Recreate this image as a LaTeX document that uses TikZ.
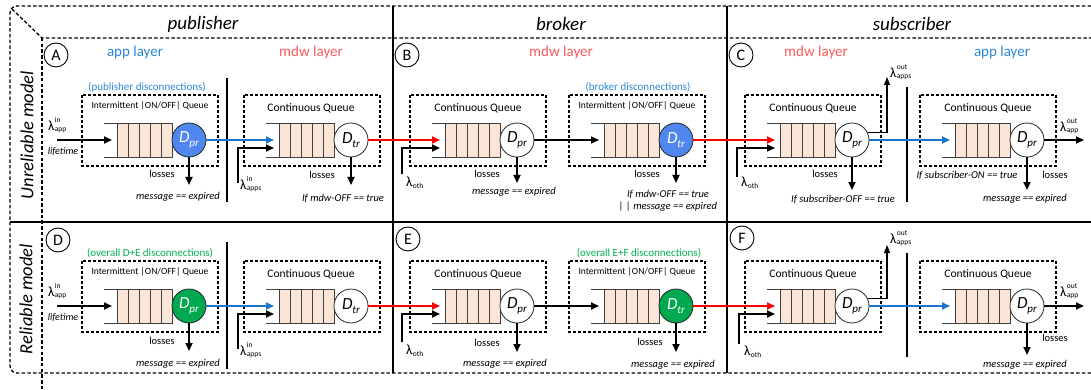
\documentclass[tikz,border=0pt]{standalone}
\usepackage{fontspec}
\setmainfont{Carlito}
\usetikzlibrary{arrows.meta,calc}
\definecolor{peach}{HTML}{FBE5D6}
\definecolor{srvblue}{HTML}{4F87EE}
\definecolor{srvgreen}{HTML}{00A84F}
\definecolor{arrblue}{HTML}{1C75C8}
\definecolor{txtblue}{HTML}{2B88D8}
\definecolor{mdwred}{HTML}{FF5A5A}
\definecolor{txtgreen}{HTML}{00B050}
\newcommand\fs[1]{\fontsize{#1}{#1}\selectfont}
\newcommand\lamb[2]{{\fs{14}λ}\kern0.2pt\rlap{\raisebox{8pt}{\fs{7.5}#1}}\raisebox{-1.5pt}{\fs{7.5}#2}}
\newcommand\srvlab[1]{{\fs{17}\itshape D}\kern-0.3pt\raisebox{-4pt}{\fs{11}\itshape #1}}
\tikzset{
  frame/.style={line width=1.3pt, dash pattern=on 3.5pt off 2.2pt},
  dbox/.style={line width=1.2pt, dash pattern=on 3pt off 2pt},
  divider/.style={line width=1.3pt},
  sepline/.style={line width=1.3pt},
  qline/.style={line width=0.9pt, draw=black!75},
  qcell/.style={line width=0.9pt, draw=black!75, fill=peach},
  srv/.style={circle, draw=black!85, line width=0.8pt, minimum size=34pt, inner sep=0pt},
  letter/.style={circle, draw, line width=0.9pt, minimum size=24pt, inner sep=0pt, font=\fs{16}},
  flowk/.style={line width=1.8pt, -{Triangle[length=8pt,width=7pt]}},
  flowb/.style={flowk, draw=arrblue},
  flowr/.style={flowk, draw=red},
  thinarr/.style={line width=1.1pt, -{Triangle[length=8pt,width=6pt]}},
  lbl/.style={font=\fs{10.5}, inner sep=0pt},
  cond/.style={font=\fs{10.5}\itshape, inner sep=0pt},
  boxt/.style={font=\fs{11.5}, inner sep=0pt},
  itt/.style={font=\fs{9.5}, inner sep=0pt},
  disc/.style={font=\fs{11}, inner sep=0pt},
  lay/.style={font=\fs{15}, inner sep=0pt},
  head/.style={font=\fs{19}\itshape, inner sep=0pt},
  rowl/.style={font=\fs{18.5}\itshape, inner sep=0pt, rotate=90},
  lam/.style={inner sep=0pt, anchor=west},
  pics/queue/.style n args={3}{code={
    \draw[qline] (-85,-17) -- (-16,-17) (-85,17) -- (-16,17);
    \foreach \k in {0,...,4}{\draw[qcell] (-72+11*\k,-17) rectangle (-61+11*\k,17);}
    \node[srv, fill=#1, text=#2] (-srv) at (0,0) {\srvlab{#3}};
    \coordinate (-in) at (-77,0);
    \coordinate (-in2) at (-77,8);
  }}
}
\begin{document}
\begin{tikzpicture}[x=1pt,y=-1pt]
\useasboundingbox (0,0) rectangle (1091,390);
% ---------- frame ----------
\draw[frame, rounded corners=7pt] (1091,6) -- (10,6) -- (10,373) -- (1091,373);
\draw[frame] (12,9) -- (42,38) -- (1091,38);
\draw[frame] (42,38) -- (42,390);
\draw[divider] (393,6) -- (393,373);
\draw[divider] (727,6) -- (727,373);
\draw[line width=1.6pt] (10,222) -- (1091,222);
% ---------- headers ----------
\node[head] (hpub) at (203,24) {publisher};
\node[head] (hbro) at (561,24) {broker};
\node[head] (hsub) at (912,24) {subscriber};
\node[rowl] (rowU) at (27,135) {Unreliable model};
\node[rowl] (rowR) at (26,299) {Reliable model};
% ---------- panel letters ----------
\node[letter] (cA) at (56,55) {A};
\node[letter] (cB) at (407,55) {B};
\node[letter] (cC) at (741,55) {C};
\node[letter] (cD) at (58,240) {D};
\node[letter] (cE) at (408,239) {E};
\node[letter] (cF) at (742,238) {F};
% ---------- layer labels ----------
\node[lay, text=txtblue] (layA1) at (135,53) {app layer};
\node[lay, text=mdwred] (layA2) at (311,53) {mdw layer};
\node[lay, text=mdwred] (layB) at (561,53) {mdw layer};
\node[lay, text=mdwred] (layC1) at (816,53) {mdw layer};
\node[lay, text=txtblue] (layC2) at (1002,53) {app layer};
% ---------- separators ----------
\draw[sepline] (227,78) -- (227,202);
\draw[sepline] (227,242) -- (227,369);
\draw[sepline] (907,87) -- (907,202);
\draw[sepline] (907,253) -- (907,357);
% ---------- dashed boxes ----------
\foreach \cx in {189,351,517,676,852,1027}{
  \draw[dbox] (\cx-107,95) rectangle (\cx+29,166);
  \draw[dbox] (\cx-107,261) rectangle (\cx+29,332);
}
% box titles
\node[itt] (ttA1) at (150,106) {Intermittent |ON/OFF| Queue};
\node[boxt] (ttA2) at (311,108) {Continuous Queue};
\node[boxt] (ttB1) at (478,108) {Continuous Queue};
\node[itt] (ttB2) at (637,106) {Intermittent |ON/OFF| Queue};
\node[boxt] (ttC1) at (813,108) {Continuous Queue};
\node[boxt] (ttC2) at (988,108) {Continuous Queue};
\node[itt] (ttD1) at (150,272) {Intermittent |ON/OFF| Queue};
\node[boxt] (ttD2) at (311,274) {Continuous Queue};
\node[boxt] (ttE1) at (478,274) {Continuous Queue};
\node[itt] (ttE2) at (637,272) {Intermittent |ON/OFF| Queue};
\node[boxt] (ttF1) at (813,274) {Continuous Queue};
\node[boxt] (ttF2) at (988,274) {Continuous Queue};
% disconnection labels
\node[disc, text=txtblue] (dA) at (147,87) {(publisher disconnections)};
\node[disc, text=txtblue] (dB) at (638,87) {(broker disconnections)};
\node[disc, text=txtgreen] (dD) at (150,253) {(overall D+E disconnections)};
\node[disc, text=txtgreen] (dE) at (639,253) {(overall E+F disconnections)};
% ---------- queues ----------
\pic (qA1) at (189,140) {queue={srvblue}{white}{pr}};
\pic (qA2) at (351,140) {queue={white}{black}{tr}};
\pic (qB1) at (517,140) {queue={white}{black}{pr}};
\pic (qB2) at (676,140) {queue={srvblue}{white}{tr}};
\pic (qC1) at (852,140) {queue={white}{black}{pr}};
\pic (qC2) at (1027,140) {queue={white}{black}{pr}};
\pic (qD1) at (189,306) {queue={srvgreen}{white}{pr}};
\pic (qD2) at (351,306) {queue={white}{black}{tr}};
\pic (qE1) at (517,306) {queue={white}{black}{pr}};
\pic (qE2) at (676,306) {queue={srvgreen}{white}{tr}};
\pic (qF1) at (852,306) {queue={white}{black}{pr}};
\pic (qF2) at (1027,306) {queue={white}{black}{pr}};
% ---------- free ends ----------
\coordinate (srcA) at (57,140);
\coordinate (srcD) at (57,306);
\coordinate (appsA) at (238,183);
\coordinate (appsD) at (238,349);
\coordinate (othB) at (402,174);
\coordinate (othE) at (402,342);
\coordinate (othC) at (737,177);
\coordinate (othF) at (739,344);
\coordinate (outC) at (887,77);
\coordinate (outF) at (887,245);
\coordinate (endC) at (1084,140);
\coordinate (endF) at (1084,306);
\coordinate (lA1) at (189,185);
\coordinate (lA2) at (351,185);
\coordinate (lB1) at (517,183);
\coordinate (lB2) at (676,183);
\coordinate (lC1) at (852,190);
\coordinate (lC2) at (1027,190);
\coordinate (lD1) at (189,351);
\coordinate (lE1) at (517,352);
\coordinate (lE2) at (676,352);
\coordinate (lF2) at (1027,355);
% ---------- row 1 connectors ----------
\draw[flowk] (srcA) -- (qA1-in);
\draw[flowb] (qA1-srv.east) -- (qA2-in);
\draw[flowk] (appsA) |- (qA2-in2);
\draw[flowr] (qA2-srv.east) -- (qB1-in);
\draw[flowk] (othB) |- (qB1-in2);
\draw[flowk] (qB1-srv.east) -- (qB2-in);
\draw[flowr] (qB2-srv.east) -- (qC1-in);
\draw[flowk] (othC) |- (qC1-in2);
\draw[thinarr] (qC1-srv.25) -| (outC);
\draw[flowb] (qC1-srv.east) -- (qC2-in);
\draw[flowk] (qC2-srv.east) -- (endC);
\foreach \q/\l in {qA1/lA1,qA2/lA2,qB1/lB1,qB2/lB2,qC1/lC1,qC2/lC2}{
  \draw[flowk] (\q-srv.south) -- (\l);
}
% ---------- row 2 connectors ----------
\draw[flowk] (srcD) -- (qD1-in);
\draw[flowb] (qD1-srv.east) -- (qD2-in);
\draw[flowk] (appsD) |- (qD2-in2);
\draw[flowr] (qD2-srv.east) -- (qE1-in);
\draw[flowk] (othE) |- (qE1-in2);
\draw[flowk] (qE1-srv.east) -- (qE2-in);
\draw[flowr] (qE2-srv.east) -- (qF1-in);
\draw[flowk] (othF) |- (qF1-in2);
\draw[thinarr] (qF1-srv.25) -| (outF);
\draw[flowb] (qF1-srv.east) -- (qF2-in);
\draw[flowk] (qF2-srv.east) -- (endF);
\foreach \q/\l in {qD1/lD1,qE1/lE1,qE2/lE2,qF2/lF2}{
  \draw[flowk] (\q-srv.south) -- (\l);
}
% ---------- lambda labels ----------
\node[lam] (lamA) at (48,125) {\lamb{in}{app}};
\node[lam] (lamD) at (48,291) {\lamb{in}{app}};
\node[lam] (lamA2) at (240,184) {\lamb{in}{apps}};
\node[lam] (lamD2) at (240,350) {\lamb{in}{apps}};
\node[lam] (lamB) at (406,183) {\lamb{}{oth}};
\node[lam] (lamE) at (406,351) {\lamb{}{oth}};
\node[lam] (lamC) at (741,183) {\lamb{}{oth}};
\node[lam] (lamF) at (744,352) {\lamb{}{oth}};
\node[lam] (lamC2) at (890,72) {\lamb{out}{apps}};
\node[lam] (lamF2) at (890,238) {\lamb{out}{apps}};
\node[lam] (lamC3) at (1060,126) {\lamb{out}{app}};
\node[lam] (lamF3) at (1060,291) {\lamb{out}{app}};
\node[cond, font=\fs{10}\itshape] (lifeA) at (63,152) {lifetime};
\node[cond, font=\fs{10}\itshape] (lifeD) at (63,318) {lifetime};
% ---------- losses and conditions ----------
\node[lbl] (losA1) at (162,174) {losses};
\node[cond] (cdA1) at (178,197) {message == expired};
\node[lbl] (losA2) at (322,175) {losses};
\node[cond] (cdA2) at (343,198) {If mdw-OFF == true};
\node[lbl] (losB1) at (487,174) {losses};
\node[cond] (cdB1) at (514,192) {message == expired};
\node[lbl] (losB2) at (647,174) {losses};
\node[cond] (cdB2) at (668,194) {If mdw-OFF == true};
\node[cond] (cdB2b) at (668,207) {| | message == expired};
\node[lbl] (losC1) at (825,174) {losses};
\node[cond] (cdC1) at (843,199) {If subscriber-OFF == true};
\node[cond] (cdC2a) at (967,175) {If subscriber-ON == true};
\node[lbl] (losC2) at (1055,175) {losses};
\node[cond] (cdC2) at (1025,199) {message == expired};
\node[lbl] (losD1) at (162,341) {losses};
\node[cond] (cdD1) at (178,364) {message == expired};
\node[lbl] (losE1) at (487,343) {losses};
\node[cond] (cdE1) at (505,364) {message == expired};
\node[lbl] (losE2) at (650,342) {losses};
\node[cond] (cdE2) at (673,365) {message == expired};
\node[lbl] (losF2) at (1055,338) {losses};
\node[cond] (cdF2) at (1025,365) {message == expired};
\end{tikzpicture}
\end{document}
